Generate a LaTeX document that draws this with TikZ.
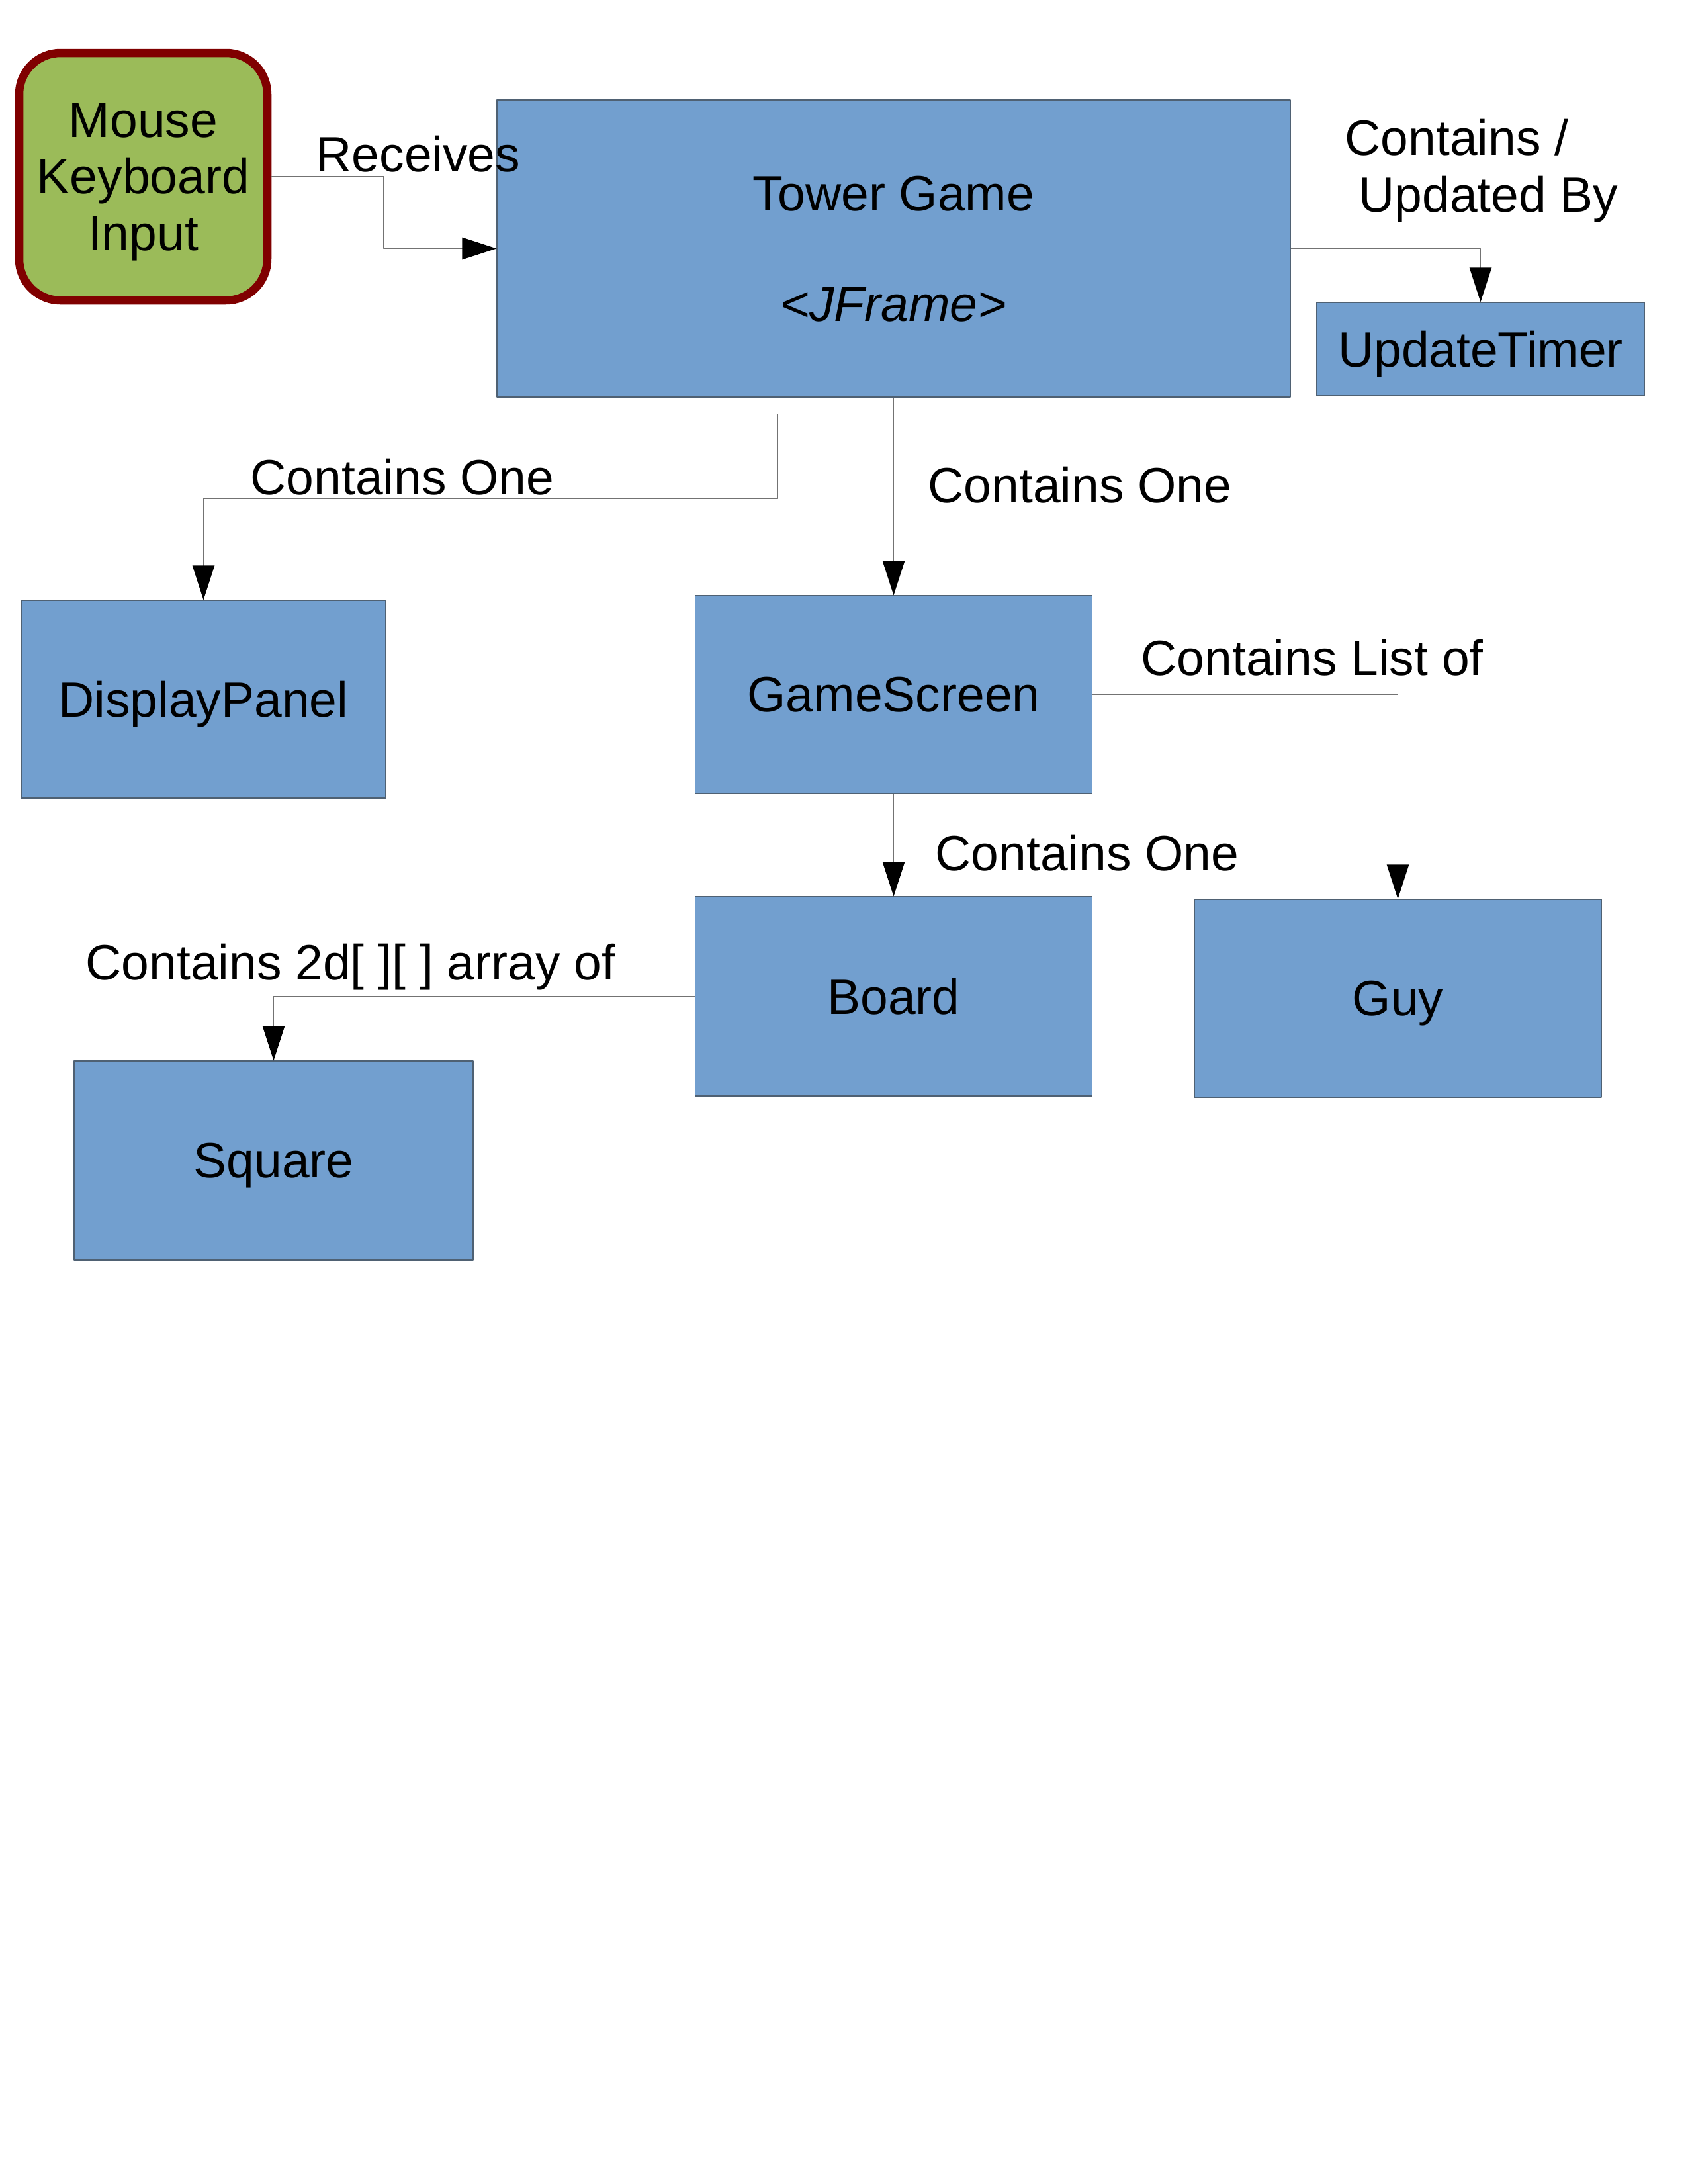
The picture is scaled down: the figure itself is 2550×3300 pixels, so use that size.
\documentclass[tikz,border=0pt]{standalone}
\usepackage{fontspec}
\setmainfont{Liberation Sans}
\usetikzlibrary{arrows.meta,calc}
\definecolor{clsblue}{HTML}{729FCF}
\definecolor{clsedge}{HTML}{4F6173}
\definecolor{ingreen}{HTML}{9BBB59}
\definecolor{inred}{HTML}{800000}
\def\pix{0.24pt}
\begin{document}
\begin{tikzpicture}[x=\pix, y=-\pix, font=\fontsize{18}{20.5}\selectfont, line join=round,
        >={Triangle[length=12.5pt, width=8pt, color=black]},
        cls/.style={rectangle, draw=clsedge, line width=.3pt, fill=clsblue, align=center, inner sep=0pt, text depth=0pt},
        boxsize/.style 2 args={minimum width=#1*\pix, minimum height=#2*\pix},
        link/.style={draw=black!55, line width=.4pt, ->}]
    \useasboundingbox (0,0) rectangle (2550,3300);
    % boxes
    \node[rectangle, rounded corners=15pt, draw=inred, line width=3pt, fill=ingreen, align=center, text depth=0pt, boxsize={375}{374}] (input) at (216.5,267) {Mouse\\Keyboard\\Input};
    \node[cls, boxsize={1199}{449}] (tower) at (1350.5,375.5) {Tower Game\\[19.5pt]\textit{<JFrame>}};
    \node[cls, boxsize={495}{141}] (timer) at (2237.5,527.5) {UpdateTimer};
    \node[cls, boxsize={551}{299}] (panel) at (307.5,1056.5) {DisplayPanel};
    \node[cls, boxsize={600}{299}] (screen) at (1350.5,1049.5) {GameScreen};
    \node[cls, boxsize={600}{301}] (board) at (1350.5,1505.5) {Board};
    \node[cls, boxsize={615}{299}] (guy) at (2112.5,1508.5) {Guy};
    \node[cls, boxsize={603}{301}] (square) at (413.5,1753.5) {Square};
    % connectors
    \coordinate (panelstart) at ($(tower.south west)+(425,25)$);
    \draw[link] (input.east) -| ($(input.east)!.5!(tower.west)$) |- (tower.west);
    \draw[link] (tower.east) -| (timer.north);
    \draw[link] (panelstart) |- ($(tower.south)!.5!(panel.north)$) -| (panel.north);
    \draw[link] (tower.south) -- (screen.north);
    \draw[link] (screen.south) -- (board.north);
    \draw[link] (screen.east) -| (guy.north);
    \draw[link] (board.west) -| (square.north);
    % labels
    \path
    node (rcvlbl) at (463,259)[anchor=base west]{Receives}
    node (updlbl) at (2018,320)[anchor=base west, align=left]{Contains /\\\hspace*{5pt}Updated By}
    node (panellbl) at (364,747)[anchor=base west]{Contains One}
    node (screenlbl) at (1388,759)[anchor=base west]{Contains One}
    node (guylbl) at (1710,1020)[anchor=base west]{Contains List of}
    node (boardlbl) at (1399,1315)[anchor=base west]{Contains One}
    node (squarelbl) at (115,1480)[anchor=base west]{Contains 2d[ ][ ] array of};
\end{tikzpicture}
\end{document}
